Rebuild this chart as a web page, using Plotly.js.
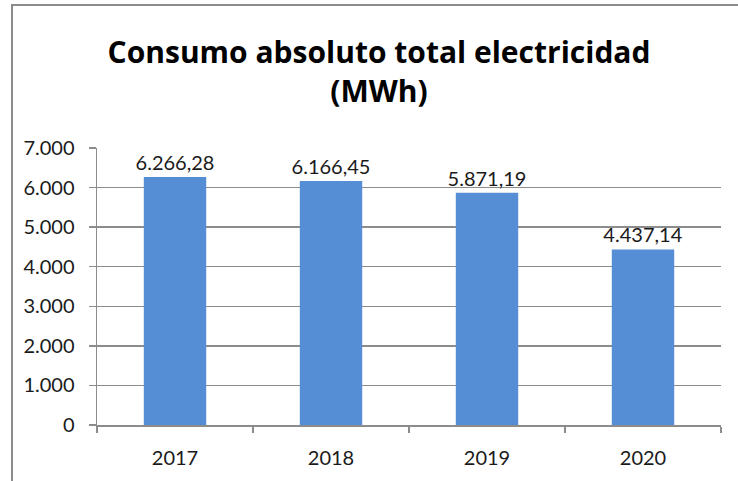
<!DOCTYPE html>
<html>
<head>
<meta charset="utf-8">
<script src="https://cdn.plot.ly/plotly-3.0.1.min.js"></script>
<style>
html,body{margin:0;padding:0;background:#fff;overflow:hidden;}
#frame{position:absolute;left:11px;top:4px;width:800px;height:600px;border:2px solid #8c8c8c;box-sizing:border-box;}
#chart{position:absolute;left:0;top:0;width:738px;height:481px;}
</style>
</head>
<body>
<div id="frame"></div>
<div id="chart"></div>
<script>
const years = ['2017', '2018', '2019', '2020'];
const consumoMWh = [6266.28, 6166.45, 5871.19, 4437.14];
const yTicks = [0, 1000, 2000, 3000, 4000, 5000, 6000, 7000];

const trace = {
  type: 'bar',
  x: years,
  y: consumoMWh,
  marker: {color: '#558ed5'},
  width: 0.4,
  texttemplate: '%{y:,.2f}',
  textposition: 'outside',
  constraintext: 'none',
  cliponaxis: false,
  textfont: {family: 'Lato, "Open Sans", sans-serif', size: 20, color: '#1a1a1a'},
  hoverinfo: 'none'
};

const layout = {
  width: 738, height: 481,
  paper_bgcolor: 'rgba(0,0,0,0)',
  plot_bgcolor: 'rgba(0,0,0,0)',
  separators: ',.',
  margin: {l: 97, r: 17, t: 148, b: 56},
  showlegend: false,
  bargap: 0.6,
  title: {
    text: '<b>Consumo absoluto total electricidad</b><br><b>(MWh)</b>',
    font: {family: '"Open Sans", sans-serif', size: 30, color: '#000'},
    x: 0.5136, xref: 'container', xanchor: 'center',
    y: 0.87, yref: 'container', yanchor: 'top'
  },
  xaxis: {
    type: 'category',
    showgrid: false,
    showline: true, linecolor: '#8c8c8c', linewidth: 1.5,
    ticks: 'outside', ticklen: 6, tickcolor: '#8c8c8c', tickwidth: 1.5,
    tickson: 'boundaries',
    tickfont: {family: 'Lato, "Open Sans", sans-serif', size: 20, color: '#1a1a1a'},
    ticklabelstandoff: 14
  },
  yaxis: {
    range: [0, 7000],
    tickvals: yTicks,
    tickformat: ',d',
    showgrid: true, gridcolor: '#8c8c8c', gridwidth: 1.5,
    showline: true, linecolor: '#8c8c8c', linewidth: 1.5,
    ticks: 'outside', ticklen: 7, tickcolor: '#8c8c8c', tickwidth: 1.5,
    zeroline: false,
    tickfont: {family: 'Lato, "Open Sans", sans-serif', size: 20, color: '#1a1a1a'},
    ticklabelstandoff: 10
  }
};

Plotly.newPlot('chart', [trace], layout, {displayModeBar: false, staticPlot: true});
</script>
</body>
</html>
